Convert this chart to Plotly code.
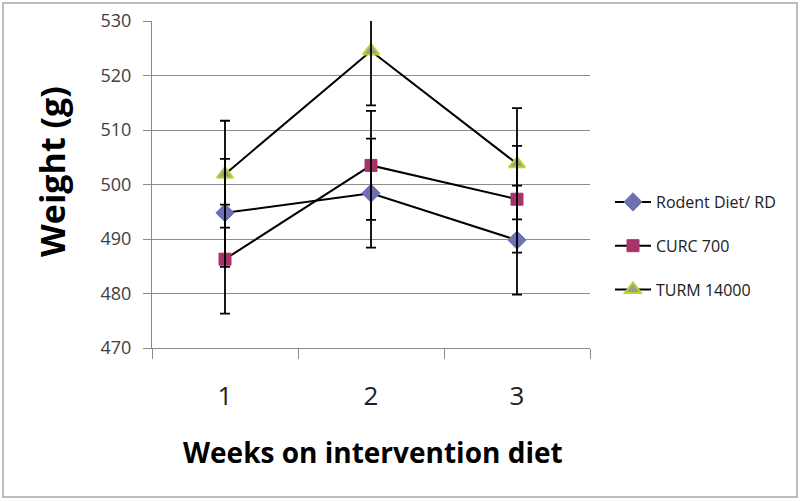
import plotly.graph_objects as go

weeks = ["1", "2", "3"]
rd_vals = [494.8, 498.4, 489.8]
rd_err = [9.9, 10.0, 10.0]
curc_vals = [486.3, 503.5, 497.3]
curc_err = [10.0, 10.0, 9.8]
turm_vals = [501.9, 524.5, 503.8]
turm_err = [9.8, 10.0, 10.2]
y_ticks = [470, 480, 490, 500, 510, 520, 530]

FONT = "Open Sans, sans-serif"
L, R, T, B = 152, 210, 21, 153
W, H = 800, 501
PW, PH = W - L - R, H - T - B


def px_x(x):
    return (x - L) / PW


def px_y(y):
    return (H - B - y) / PH


series = [
    ("Rodent Diet/ RD", rd_vals, rd_err, dict(symbol="diamond", size=14, color="#6F6FB4",
                                             line=dict(color="#6F6FB4", width=1))),
    ("CURC 700", curc_vals, curc_err, dict(symbol="square", size=12, color="#A8336B",
                                          line=dict(color="#A8336B", width=1))),
    ("TURM 14000", turm_vals, turm_err, dict(symbol="triangle-up", size=14, color="#9A9E8C",
                                            line=dict(color="#B8D332", width=2))),
]

fig = go.Figure()
for i, (name, vals, err, mk) in enumerate(series):
    fig.add_trace(go.Scatter(
        x=weeks, y=vals, name=name, mode="lines+markers",
        line=dict(color="#000000", width=2),
        marker=mk,
        legendgroup=f"g{i}",
    ))
# error bars drawn on top of markers (as in the reference)
for i, (name, vals, err, mk) in enumerate(series):
    fig.add_trace(go.Scatter(
        x=weeks, y=vals, mode="markers", showlegend=False, hoverinfo="skip",
        marker=dict(size=1, color="rgba(0,0,0,0)"),
        error_y=dict(type="data", array=err, visible=True, color="#000000",
                     thickness=1.8, width=5),
        legendgroup=f"g{i}",
    ))

fig.update_layout(
    width=W, height=H,
    margin=dict(l=L, r=R, t=T, b=B, autoexpand=False),
    paper_bgcolor="white", plot_bgcolor="white",
    font=dict(family=FONT, color="#404040"),
    showlegend=True,
    legend=dict(x=px_x(610), y=px_y(246), xanchor="left", yanchor="middle",
                font=dict(family=FONT, size=16, color="#202020"),
                tracegroupgap=20, bgcolor="rgba(0,0,0,0)", itemwidth=36),
    xaxis=dict(
        type="category", range=[-0.5, 2.5], tickson="boundaries",
        ticks="outside", ticklen=10,
        tickcolor="#888888", showline=True, linecolor="#888888", linewidth=1,
        showgrid=False, tickfont=dict(family=FONT, size=26, color="#202020"),
        ticklabelstandoff=25, automargin=False,
    ),
    yaxis=dict(
        range=[470, 530], tickvals=y_ticks, ticks="outside", ticklen=8,
        tickcolor="#888888", showline=True, linecolor="#888888", linewidth=1,
        showgrid=True, gridcolor="#8C8C8C", gridwidth=1,
        tickfont=dict(family=FONT, size=18, color="#404040"),
        ticklabelstandoff=8, automargin=False, zeroline=False,
    ),
    annotations=[
        dict(text="<b>Weight (g)</b>", xref="paper", yref="paper",
             x=px_x(52), y=px_y(172), textangle=-90, showarrow=False,
             xanchor="center", yanchor="middle",
             font=dict(family=FONT, size=34, color="#000000")),
        dict(text="<b>Weeks on intervention diet</b>", xref="paper", yref="paper",
             x=px_x(373), y=px_y(452), showarrow=False,
             xanchor="center", yanchor="middle",
             font=dict(family=FONT, size=28, color="#000000")),
    ],
)

# outer chart border
fig.add_shape(type="rect", xref="paper", yref="paper",
              x0=px_x(3), x1=px_x(797), y0=px_y(497), y1=px_y(3),
              line=dict(color="#A8A8A8", width=1.5), layer="below")

fig.write_html("out.html", config={"displayModeBar": False},
               post_script="document.body.style.margin='0';")
